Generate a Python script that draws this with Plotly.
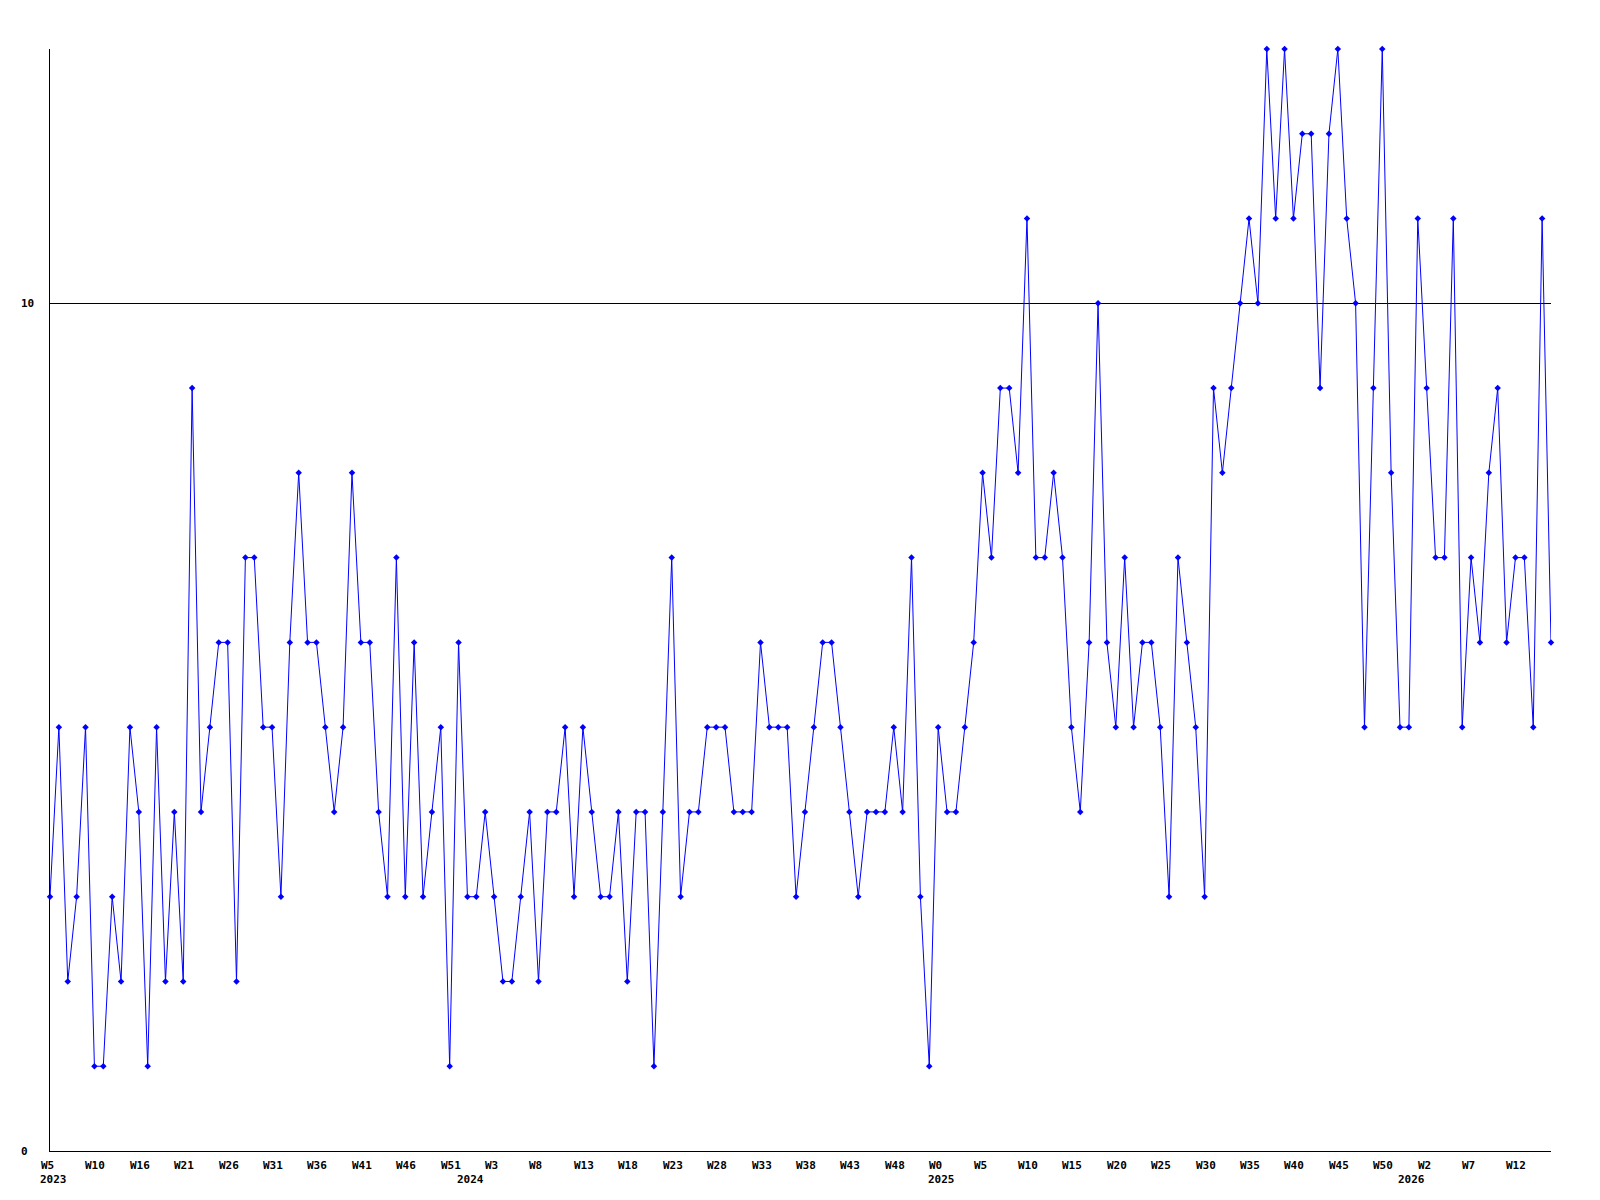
import plotly.graph_objects as go

# Weekly values (one per week, W5 2023 .. W16 2026)
values = [
    3, 5, 2, 3, 5, 1, 1, 3, 2, 5,
    4, 1, 5, 2, 4, 2, 9, 4, 5, 6,
    6, 2, 7, 7, 5, 5, 3, 6, 8, 6,
    6, 5, 4, 5, 8, 6, 6, 4, 3, 7,
    3, 6, 3, 4, 5, 1, 6, 3, 3, 4,
    3, 2, 2, 3, 4, 2, 4, 4, 5, 3,
    5, 4, 3, 3, 4, 2, 4, 4, 1, 4,
    7, 3, 4, 4, 5, 5, 5, 4, 4, 4,
    6, 5, 5, 5, 3, 4, 5, 6, 6, 5,
    4, 3, 4, 4, 4, 5, 4, 7, 3, 1,
    5, 4, 4, 5, 6, 8, 7, 9, 9, 8,
    11, 7, 7, 8, 7, 5, 4, 6, 10, 6,
    5, 7, 5, 6, 6, 5, 3, 7, 6, 5,
    3, 9, 8, 9, 10, 11, 10, 13, 11, 13,
    11, 12, 12, 9, 12, 13, 11, 10, 5, 9,
    13, 8, 5, 5, 11, 9, 7, 7, 11, 5,
    7, 6, 8, 9, 6, 7, 7, 5, 11, 6,
]

# Week tick labels (every 5th week)
tick_weeks = ["W5", "W10", "W16", "W21", "W26", "W31", "W36", "W41", "W46", "W51",
              "W3", "W8", "W13", "W18", "W23", "W28", "W33", "W38", "W43", "W48",
              "W0", "W5", "W10", "W15", "W20", "W25", "W30", "W35", "W40", "W45", "W50",
              "W2", "W7", "W12"]
tick_step = 5

# Year labels and the week index where each year starts
year_labels = ["2023", "2024", "2025", "2026"]
year_start_index = [0, 47, 100, 153]

y_tick_vals = [0, 10]
y_tick_text = ["0", "10"]

x = list(range(len(values)))

FONT = dict(family="DejaVu Sans Mono", size=11, color="black", weight="bold")

fig = go.Figure()
fig.add_trace(go.Scatter(
    x=x, y=values, mode="lines+markers",
    line=dict(color="#0000FF", width=1),
    marker=dict(symbol="diamond", size=5, color="#0000FF"),
    cliponaxis=False, hoverinfo="x+y",
))

annotations = []
for k, wk in enumerate(tick_weeks):
    annotations.append(dict(
        x=k * tick_step, xref="x", y=0, yref="paper",
        text=wk, showarrow=False, xanchor="left", yanchor="top",
        align="left", xshift=-11, yshift=-6, font=FONT,
    ))
for yl, yi in zip(year_labels, year_start_index):
    annotations.append(dict(
        x=yi, xref="x", y=0, yref="paper",
        text=yl, showarrow=False, xanchor="center", yanchor="top",
        xshift=3, yshift=-20, font=FONT,
    ))
for v, t in zip(y_tick_vals, y_tick_text):
    annotations.append(dict(
        x=0, xref="paper", y=v, yref="y", text=t, showarrow=False,
        xanchor="left", yanchor="middle", align="left", xshift=-31, font=FONT,
    ))

fig.update_layout(
    width=1600, height=1200, autosize=False,
    margin=dict(l=50, r=49, t=49, b=49, pad=0),
    paper_bgcolor="white", plot_bgcolor="white",
    showlegend=False,
    annotations=annotations,
    xaxis=dict(range=[0, len(values) - 1], showgrid=False, zeroline=False,
               showline=True, linecolor="black", linewidth=1,
               showticklabels=False, ticks="", fixedrange=True),
    yaxis=dict(range=[0, 13], tickvals=[10], showgrid=True, gridcolor="black",
               gridwidth=1, zeroline=False, showline=True, linecolor="black",
               linewidth=1, showticklabels=False, ticks="", fixedrange=True),
)

fig.write_html("out.html", post_script="document.body.style.margin='0';",
               config={"displayModeBar": False})
